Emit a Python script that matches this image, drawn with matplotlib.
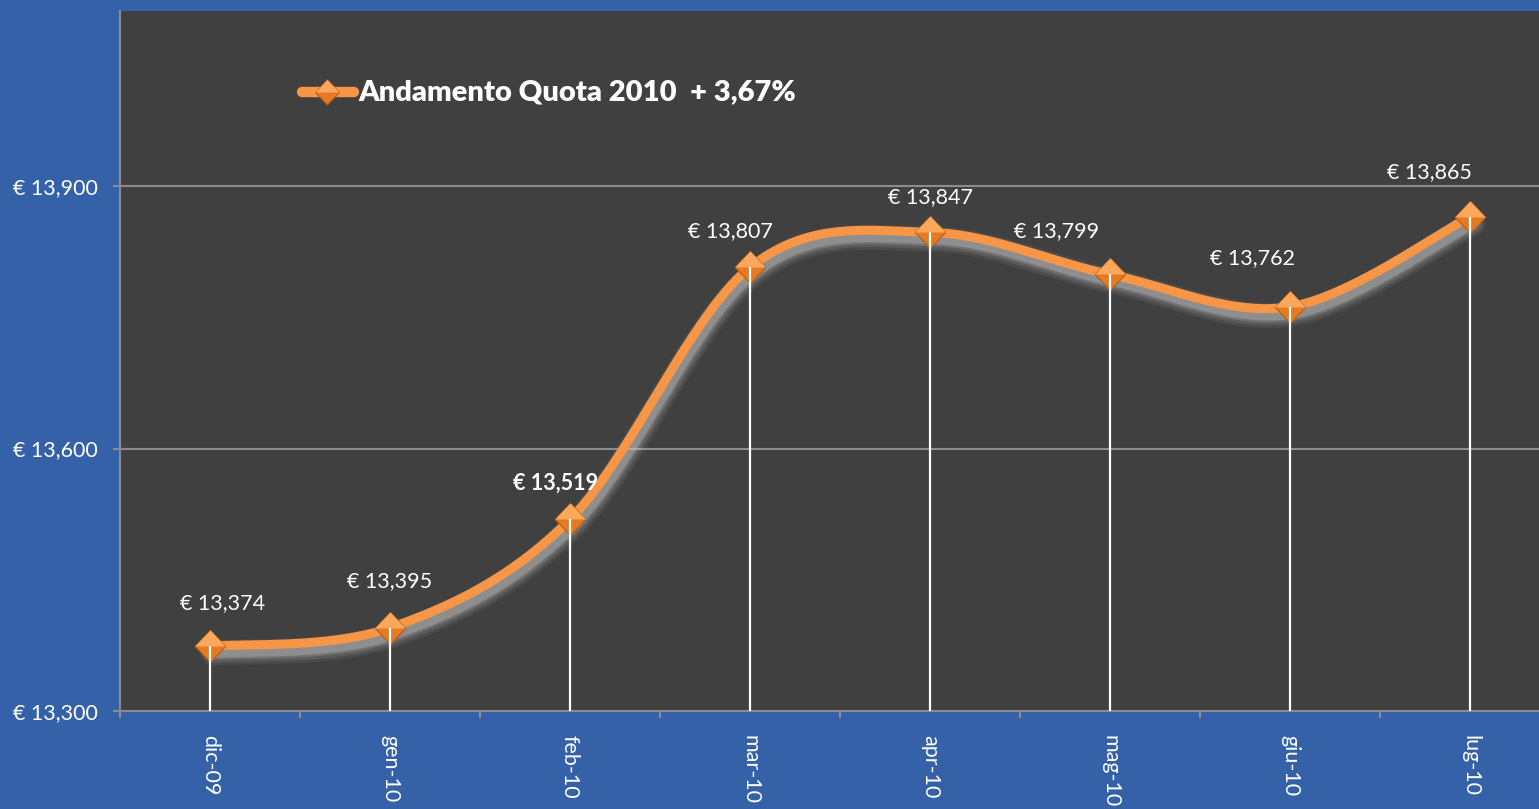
import numpy as np
import matplotlib
matplotlib.use("Agg")
import matplotlib.pyplot as plt
from matplotlib.path import Path
from matplotlib.lines import Line2D
import matplotlib.transforms as mtransforms

plt.rcParams['font.family'] = ['Lato', 'DejaVu Sans']

# data
months = ["dic-09", "gen-10", "feb-10", "mar-10", "apr-10", "mag-10", "giu-10", "lug-10"]
quota = [13.374, 13.395, 13.519, 13.807, 13.847, 13.799, 13.762, 13.865]
y_ticks = [13.300, 13.600, 13.900]
legend_label = "Andamento Quota 2010  + 3,67%"

# label offsets in pixels (manually placed labels in the original)
label_dx = [13, 0, -14, -20, 0, -53, -38, -41]
label_dy = [43, 47, 36, 36, 35, 43, 49, 45]
bold_label = [False, False, True, False, False, False, False, False]

blue = "#3461A8"
dark = "#404040"
orange = "#F79646"
grid_c = "#8C8C8C"


def eur(v):
    return "€ " + f"{v:.3f}".replace(".", ",")


def smooth(xs, ys, n=40):
    # uniform catmull-rom, similar to Excel smoothed lines
    pts = np.column_stack([xs, ys]).astype(float)
    p = np.vstack([pts[0], pts, pts[-1]])
    out = []
    t = np.linspace(0, 1, n)[:, None]
    for i in range(1, len(p) - 2):
        p0, p1, p2, p3 = p[i - 1], p[i], p[i + 1], p[i + 2]
        c1 = p1 + (p2 - p0) / 6
        c2 = p2 - (p3 - p1) / 6
        seg = ((1 - t) ** 3) * p1 + 3 * ((1 - t) ** 2) * t * c1 + 3 * (1 - t) * t ** 2 * c2 + t ** 3 * p2
        out.append(seg if i == 1 else seg[1:])
    out = np.vstack(out)
    return out[:, 0], out[:, 1]


fig = plt.figure(figsize=(15.39, 8.09), dpi=100, facecolor=blue)
ax = fig.add_axes([120 / 1539, 98 / 809, 1440 / 1539, 700 / 809])
ax.set_facecolor(dark)

x = np.arange(len(months))
ax.set_xlim(-0.5, len(months) - 0.5)
ax.set_ylim(13.300, 14.100)

# gridlines
for yt in y_ticks[1:]:
    ax.axhline(yt, color=grid_c, lw=1.5, zorder=1)

sx, sy = smooth(x, quota)

# shadow / glow under the line
for w, a in [(18, 0.08), (14, 0.12), (10, 0.2), (7, 0.3)]:
    off = mtransforms.offset_copy(ax.transData, fig=fig, x=3, y=-7, units='dots')
    ax.plot(sx, sy, color="#D0D0D0", lw=w, alpha=a, transform=off,
            solid_capstyle='round', zorder=2)

ax.plot(sx, sy, color=orange, lw=6.5, solid_capstyle='round', zorder=3)

# markers: full diamond + lighter upper half
diamond = Path([(-1, 0), (0, 1.05), (1, 0), (0, -1.05), (-1, 0)],
               [Path.MOVETO, Path.LINETO, Path.LINETO, Path.LINETO, Path.CLOSEPOLY])
top_half = Path([(-1, 0), (0, 1.05), (1, 0), (0, 0.0), (-1, 0)],
                [Path.MOVETO, Path.LINETO, Path.LINETO, Path.LINETO, Path.CLOSEPOLY])
ax.plot(x, quota, ls='none', marker=diamond, ms=23, mfc="#E57A22",
        mec="#B85E14", mew=0.8, zorder=4)
ax.plot(x, quota, ls='none', marker=top_half, ms=23, mfc="#FBA75C",
        mec="none", zorder=4.5)

# drop lines
ax.vlines(x, 13.300, quota, color="white", lw=1.6, zorder=5)

# value labels
for i, v in enumerate(quota):
    ax.annotate(eur(v), (x[i], v), xytext=(label_dx[i], label_dy[i]),
                textcoords='offset pixels', ha='center', va='center',
                color='white', fontsize=15.5,
                fontweight='bold' if bold_label[i] else 'normal', zorder=6)

# axes styling
for s in ['top', 'right']:
    ax.spines[s].set_visible(False)
ax.spines['left'].set_color(grid_c)
ax.spines['bottom'].set_color(grid_c)
ax.spines['left'].set_linewidth(1.5)
ax.spines['bottom'].set_linewidth(1.5)

ax.set_yticks(y_ticks)
ax.set_yticklabels([eur(v) for v in y_ticks], color='white', fontsize=15.5)
ax.tick_params(axis='y', length=5, color=grid_c, width=1.5, pad=11)

ax.set_xticks(x)
ax.set_xticklabels(months, rotation=270, color='white', fontsize=15.5)
ax.set_xticks(np.arange(len(months) + 1) - 0.5, minor=True)
ax.tick_params(axis='x', which='major', length=0, pad=17)
ax.tick_params(axis='x', which='minor', length=5, color=grid_c, width=1.5)

# legend (placed manually as in the original)
lx0, lx1, ly = 302 / 1539, 354 / 1539, 1 - 92 / 809
fig.add_artist(Line2D([lx0, lx1], [ly, ly], transform=fig.transFigure,
                      color=orange, lw=7.5, solid_capstyle='round', zorder=5))
fig.add_artist(Line2D([327 / 1539], [ly], transform=fig.transFigure, ls='none',
                      marker=diamond, ms=18, mfc="#E57A22", mec="#B85E14",
                      mew=0.8, zorder=6))
fig.add_artist(Line2D([327 / 1539], [ly], transform=fig.transFigure, ls='none',
                      marker=top_half, ms=18, mfc="#FBA75C", mec="none", zorder=7))
fig.text(358 / 1539, ly, legend_label, color='white', fontsize=21,
         fontweight='heavy', ha='left', va='center')

fig.savefig("out.png", dpi=100, facecolor=blue)
